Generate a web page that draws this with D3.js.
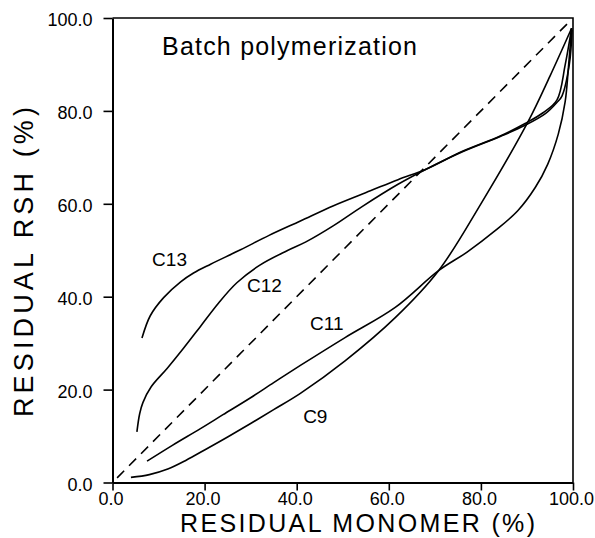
<!DOCTYPE html>
<html>
<head>
<meta charset="utf-8">
<script src="https://cdn.jsdelivr.net/npm/d3@7"></script>
<style>
  html, body { margin: 0; padding: 0; background: #fff; }
  svg { display: block; }
  text { font-family: "Liberation Sans", Arial, Helvetica, sans-serif; fill: #000; }
</style>
</head>
<body>
<svg id="chart" width="595" height="538"></svg>
<script>
// Residual RSH vs residual monomer, batch polymerization
const xTicks = [0, 20, 40, 60, 80, 100];
const yTicks = [0, 20, 40, 60, 80, 100];

const seriesNames = ["C13", "C12", "C11", "C9"];

const c13 = [
  [6.4, 31.1], [8.2, 35.9], [11.1, 39.8], [14.8, 43.2], [17.6, 45.1], [21.3, 47.0],
  [27.8, 50.1], [34.0, 53.2], [40.8, 56.3], [48.0, 59.6], [56.0, 62.8], [62.0, 65.2],
  [68.2, 67.5], [76.0, 71.3], [84.2, 74.6], [89.6, 77.3], [93.5, 79.6], [96.5, 82.3],
  [98.3, 89.9], [99.7, 97.8]
];
const c12 = [
  [5.3, 10.9], [5.9, 14.8], [6.6, 17.2], [8.4, 20.6], [11.9, 24.6], [15.5, 29.0],
  [19.1, 33.6], [23.0, 38.6], [27.0, 43.0], [32.0, 46.8], [37.9, 49.9], [42.0, 51.8],
  [48.0, 55.3], [54.2, 59.4], [62.0, 64.2], [68.2, 67.5], [76.0, 71.2], [84.2, 74.5],
  [89.6, 76.9], [94.0, 79.4], [96.5, 81.8], [97.6, 83.2], [99.2, 90.0], [99.8, 97.5]
];
const c11 = [
  [7.5, 4.6], [13.0, 8.0], [19.1, 11.6], [24.0, 14.6], [29.9, 18.2], [35.0, 21.5],
  [40.8, 25.2], [50.5, 31.2], [61.4, 37.7], [70.8, 45.6], [77.0, 49.6], [83.1, 54.2],
  [88.0, 58.5], [91.8, 63.5], [94.5, 68.5], [96.8, 75.0], [98.3, 82.0], [99.0, 89.3],
  [99.7, 97.8]
];
const c9 = [
  [4.0, 1.1], [8.0, 1.7], [12.0, 2.9], [16.0, 4.8], [20.0, 7.0], [25.0, 9.8],
  [30.0, 12.7], [35.0, 15.7], [40.8, 19.2], [50.5, 26.2], [61.4, 35.5], [70.8, 45.6],
  [80.0, 60.0], [90.3, 77.8], [95.0, 87.5], [99.7, 97.8]
];
const seriesValues = [c13, c12, c11, c9];

// label anchor points (data units) for each curve name
const labelX = [8.6, 29.2, 42.9, 41.4];
const labelY = [46.6, 41.0, 32.8, 12.8];

// equal-composition reference line
const diagonal = [[1.0, 1.0], [98.8, 98.8]];

const titleText = "Batch polymerization";
const xTitle = "RESIDUAL MONOMER (%)";
const yTitle = "RESIDUAL RSH (%)";

const svg = d3.select("#chart");
const plotLeft = 112.5, plotRight = 573, plotTop = 18, plotBottom = 482.5;

const x = d3.scaleLinear().domain([0, 100]).range([plotLeft, plotRight]);
const y = d3.scaleLinear().domain([0, 100]).range([plotBottom, plotTop]);

// frame: top and right edges
svg.append("path")
  .attr("d", `M${plotLeft},${plotTop}H${plotRight}V${plotBottom}`)
  .attr("fill", "none").attr("stroke", "#000").attr("stroke-width", 1.6);

// axes
const fmt = d3.format(".1f");
const xAxis = svg.append("g").attr("transform", `translate(0,${plotBottom})`)
  .call(d3.axisBottom(x).tickValues(xTicks).tickFormat(fmt).tickSize(8).tickSizeOuter(0));
const yAxis = svg.append("g").attr("transform", `translate(${plotLeft},0)`)
  .call(d3.axisLeft(y).tickValues(yTicks).tickFormat(fmt).tickSize(9).tickSizeOuter(0));

[xAxis, yAxis].forEach(g => {
  g.select(".domain").attr("stroke", "#000").attr("stroke-width", 2);
  g.selectAll(".tick line").attr("stroke", "#000").attr("stroke-width", 1.6);
  g.selectAll(".tick text")
    .attr("fill", "#000")
    .style("font-size", "18px")
    .style("font-family", "'Liberation Sans', Arial, sans-serif");
});
xAxis.selectAll(".tick text").attr("y", 0).attr("dy", 0)
  .attr("transform", "translate(-2,22)");
yAxis.selectAll(".tick text").attr("x", -20).attr("dy", "0.42em");

// dashed diagonal
const line = d3.line().x(d => x(d[0])).y(d => y(d[1]));
svg.append("path")
  .attr("d", line(diagonal))
  .attr("fill", "none").attr("stroke", "#000").attr("stroke-width", 1.6)
  .attr("stroke-dasharray", "10,7");

// curves
const curve = d3.line().x(d => x(d[0])).y(d => y(d[1])).curve(d3.curveCatmullRom.alpha(0.5));
svg.append("g").selectAll("path")
  .data(seriesValues)
  .join("path")
  .attr("d", curve)
  .attr("fill", "none")
  .attr("stroke", "#000")
  .attr("stroke-width", 1.6)
  .attr("stroke-linejoin", "round");

// curve names
svg.append("g").selectAll("text")
  .data(seriesNames)
  .join("text")
  .attr("x", (d, i) => x(labelX[i]))
  .attr("y", (d, i) => y(labelY[i]))
  .style("font-size", "19px")
  .text(d => d);

// title inside the plot
svg.append("text")
  .attr("x", 162).attr("y", 55)
  .attr("textLength", 255).attr("lengthAdjust", "spacing")
  .style("font-size", "25px")
  .text(titleText);

// axis titles
svg.append("text")
  .attr("x", 180).attr("y", 532)
  .attr("textLength", 355).attr("lengthAdjust", "spacing")
  .style("font-size", "25px")
  .text(xTitle);

svg.append("text")
  .attr("transform", "translate(33,417) rotate(-90)")
  .attr("x", 0).attr("y", 0)
  .attr("textLength", 310).attr("lengthAdjust", "spacing")
  .style("font-size", "27px")
  .text(yTitle);
</script>
</body>
</html>
